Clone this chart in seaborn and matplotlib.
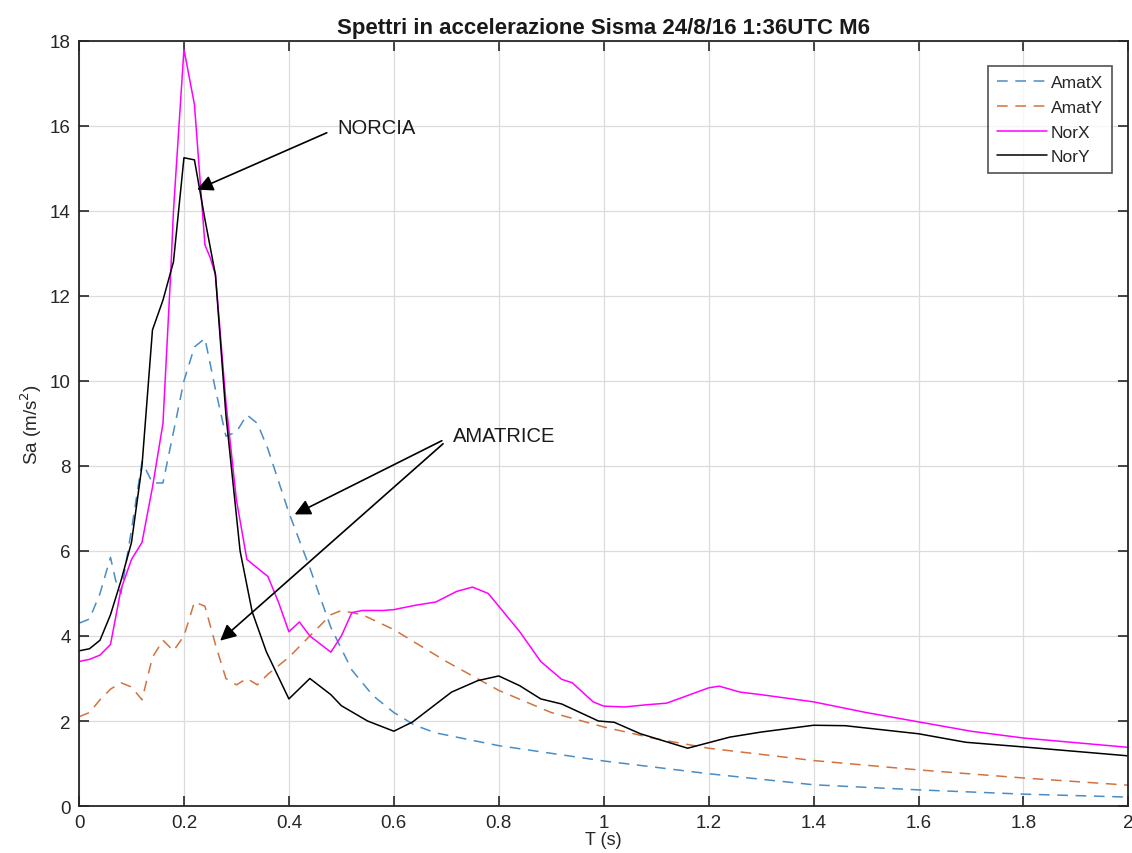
import matplotlib
matplotlib.use("Agg")
import matplotlib.pyplot as plt
import seaborn as sns
import pandas as pd

# periods (s) and spectral accelerations (m/s^2)
amatx_t = [0, 0.02, 0.04, 0.06, 0.07, 0.08, 0.10, 0.12, 0.14, 0.16, 0.18, 0.20, 0.22, 0.24,
           0.26, 0.28, 0.30, 0.32, 0.34, 0.36, 0.40, 0.44, 0.48, 0.52, 0.56, 0.60, 0.64, 0.68,
           0.80, 1.0, 1.2, 1.4, 1.6, 1.8, 2.0]
amatx_sa = [4.3, 4.4, 5.0, 5.85, 5.3, 5.0, 6.5, 8.1, 7.6, 7.6, 8.8, 10.0, 10.8, 11.0,
            9.8, 8.7, 8.8, 9.2, 9.0, 8.4, 6.9, 5.6, 4.2, 3.2, 2.6, 2.2, 1.9, 1.72,
            1.42, 1.06, 0.76, 0.5, 0.38, 0.28, 0.21]

amaty_t = [0, 0.02, 0.04, 0.06, 0.08, 0.10, 0.12, 0.14, 0.16, 0.18, 0.20, 0.22, 0.24, 0.26,
           0.28, 0.30, 0.32, 0.34, 0.36, 0.40, 0.44, 0.48, 0.50, 0.54, 0.60, 0.70, 0.80, 0.9,
           1.0, 1.1, 1.2, 1.4, 1.6, 1.8, 2.0]
amaty_sa = [2.1, 2.2, 2.5, 2.75, 2.9, 2.8, 2.5, 3.5, 3.9, 3.65, 4.0, 4.8, 4.7, 3.8,
            3.0, 2.85, 3.0, 2.85, 3.1, 3.5, 4.0, 4.5, 4.6, 4.5, 4.15, 3.4, 2.72, 2.2,
            1.86, 1.58, 1.36, 1.07, 0.85, 0.66, 0.49]

norx_t = [0, 0.02, 0.04, 0.06, 0.08, 0.10, 0.12, 0.14, 0.16, 0.175, 0.18, 0.20, 0.22, 0.24,
          0.25, 0.26, 0.27, 0.28, 0.30, 0.32, 0.34, 0.36, 0.38, 0.40, 0.42, 0.44, 0.48, 0.50,
          0.52, 0.54, 0.58, 0.60, 0.64, 0.68, 0.72, 0.75, 0.78, 0.80, 0.84, 0.88, 0.92, 0.94,
          0.98, 1.0, 1.04, 1.08, 1.12, 1.16, 1.2, 1.22, 1.26, 1.3, 1.4, 1.5, 1.6, 1.7, 1.8,
          1.9, 2.0]
norx_sa = [3.4, 3.45, 3.55, 3.8, 5.1, 5.8, 6.2, 7.5, 9.0, 12.6, 14.0, 17.8, 16.5, 13.2,
           12.9, 12.5, 11.0, 9.5, 7.2, 5.8, 5.6, 5.4, 4.8, 4.1, 4.33, 4.0, 3.62, 4.0,
           4.55, 4.6, 4.6, 4.62, 4.72, 4.8, 5.05, 5.15, 5.0, 4.7, 4.1, 3.4, 2.98, 2.9,
           2.45, 2.35, 2.33, 2.38, 2.42, 2.6, 2.78, 2.82, 2.68, 2.62, 2.45, 2.2, 1.98, 1.76,
           1.6, 1.49, 1.38]

nory_t = [0, 0.02, 0.04, 0.06, 0.08, 0.10, 0.12, 0.14, 0.16, 0.18, 0.20, 0.22, 0.24, 0.26,
          0.28, 0.307, 0.33, 0.357, 0.40, 0.44, 0.48, 0.50, 0.55, 0.60, 0.636, 0.71, 0.76,
          0.80, 0.84, 0.88, 0.92, 0.99, 1.02, 1.07, 1.16, 1.24, 1.3, 1.4, 1.46, 1.6, 1.69,
          1.8, 2.0]
nory_sa = [3.65, 3.7, 3.9, 4.5, 5.3, 6.2, 8.0, 11.2, 11.9, 12.8, 15.25, 15.2, 13.8, 12.5,
           9.2, 6.0, 4.57, 3.63, 2.52, 3.0, 2.62, 2.36, 2.0, 1.76, 1.98, 2.68, 2.95,
           3.06, 2.83, 2.52, 2.4, 2.0, 1.97, 1.7, 1.36, 1.62, 1.74, 1.9, 1.89, 1.7, 1.5,
           1.39, 1.18]

series = [
    ("AmatX", amatx_t, amatx_sa, "#4a8cc4", (0, (7, 5))),
    ("AmatY", amaty_t, amaty_sa, "#d2733f", (0, (7, 5))),
    ("NorX", norx_t, norx_sa, "#ff00ff", "-"),
    ("NorY", nory_t, nory_sa, "#000000", "-"),
]

sns.set_theme(style="whitegrid")
plt.rcParams["font.family"] = ["Liberation Sans", "DejaVu Sans"]

fig = plt.figure(figsize=(11.32, 8.54), dpi=100)
ax = fig.add_axes([0.0698, 0.055, 0.927, 0.896])

for name, t, sa, col, ls in series:
    df = pd.DataFrame({"T": t, "Sa": sa})
    sns.lineplot(data=df, x="T", y="Sa", ax=ax, color=col, linestyle=ls,
                 linewidth=1.1, label=name)

ax.set_xlim(0, 2)
ax.set_ylim(0, 18)
ax.set_xticks([0, 0.2, 0.4, 0.6, 0.8, 1, 1.2, 1.4, 1.6, 1.8, 2])
ax.set_xticklabels(["0", "0.2", "0.4", "0.6", "0.8", "1", "1.2", "1.4", "1.6", "1.8", "2"])
ax.set_yticks(range(0, 19, 2))
ax.grid(True, color="#dcdcdc", linewidth=0.9)
ax.set_facecolor("white")
for sp in ax.spines.values():
    sp.set_color("#262626")
    sp.set_linewidth(1.3)
ax.tick_params(direction="in", length=7, width=1.2, color="#262626",
               top=True, right=True, bottom=True, left=True,
               labelsize=13.5, labelcolor="#262626", pad=6)

ax.set_title("Spettri in accelerazione Sisma 24/8/16 1:36UTC M6",
             fontsize=16, fontweight="bold", color="#1a1a1a", pad=6)
ax.set_xlabel("T (s)", fontsize=13, color="#262626", labelpad=0)
ax.set_ylabel("Sa (m/s$^2$)", fontsize=13.5, color="#262626", labelpad=4)

# arrows pointing at the two stations
arrow = dict(arrowstyle="-|>", color="black", lw=1.2, mutation_scale=24,
             relpos=(0, 0.5), shrinkA=6, shrinkB=0)
ax.annotate("NORCIA", xy=(0.225, 14.5), xytext=(0.493, 15.95),
            fontsize=14.5, va="center", ha="left", color="#1a1a1a", arrowprops=arrow)
ax.annotate("AMATRICE", xy=(0.411, 6.86), xytext=(0.712, 8.72),
            fontsize=14.5, va="center", ha="left", color="#1a1a1a", arrowprops=arrow)
ax.annotate("AMATRICE", xy=(0.269, 3.89), xytext=(0.712, 8.72),
            fontsize=14.5, va="center", ha="left", alpha=0, arrowprops=arrow)

leg = ax.legend(loc="upper right", bbox_to_anchor=(0.9925, 0.978), fontsize=12.5,
                frameon=True, fancybox=False, handlelength=2.9, handletextpad=0.2,
                labelspacing=0.55, borderpad=0.5)
leg.get_frame().set_edgecolor("#262626")
leg.get_frame().set_linewidth(1.2)

fig.savefig("out.png", dpi=100)
